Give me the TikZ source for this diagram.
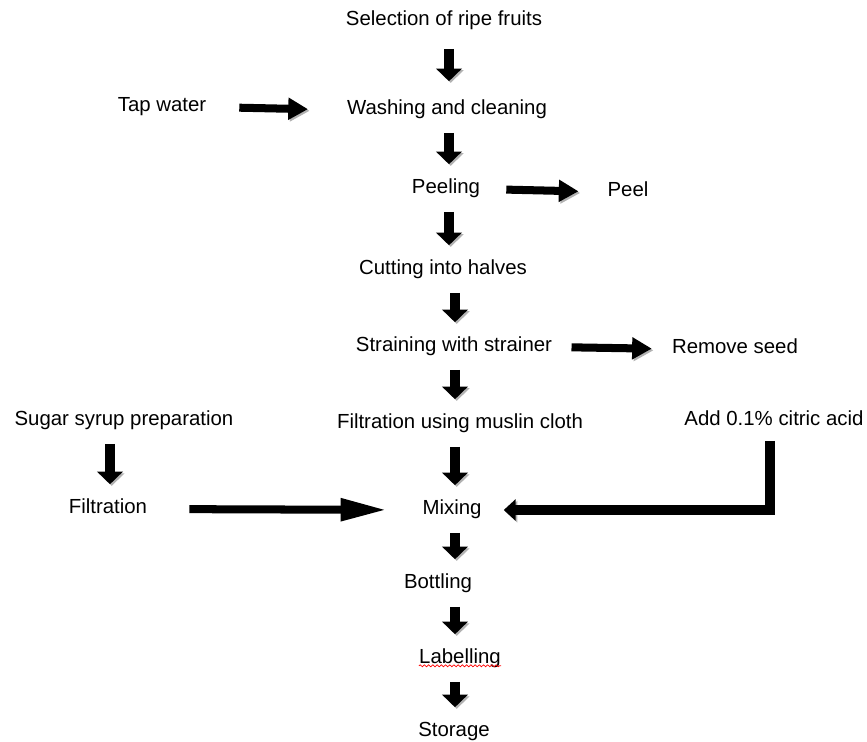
\documentclass[tikz,border=0pt]{standalone}
\usepackage{fontspec}
\setmainfont{Liberation Sans}
\usetikzlibrary{arrows.meta, calc, decorations.pathmorphing}

\tikzset{
    shadowed/.style={preaction={draw=black!30, transform canvas={shift={(1.2pt,-1.2pt)}}}},
    down arrow/.style={shadowed, line width=7pt, -{Triangle[width=18pt,length=9pt]}, shorten <=0.4cm, shorten >=0.45cm},
    side arrow/.style={shadowed, line width=5.7pt, -{Triangle[width=15pt,length=14pt]}},
    long arrow/.style={shadowed, line width=5.7pt, -{Triangle[width=15pt,length=33pt]}},
    elbow arrow/.style={shadowed, line width=7.5pt, -{Triangle[width=15pt,length=8.5pt]}}
}

\begin{document}
\begin{tikzpicture}[x=0.025cm, y=-0.025cm,
    every node/.style={font=\fontsize{14.5}{17}\selectfont, inner sep=0pt, text height=1.5ex, text depth=.25ex}]
    \useasboundingbox (0,0) rectangle (867,742);
    % columns for the vertical arrows
    \coordinate (top axis) at (449,0);
    \coordinate (main axis) at (455,0);
    \coordinate (left axis) at (110,0);
    % steps
    \node (select) at (444,21) {Selection of ripe fruits};
    \node (tap) at (162,107) {Tap water};
    \node (wash) at (447,110) {Washing and cleaning};
    \node (peeling) at (446,189) {Peeling};
    \node (peel) at (628,192) {Peel};
    \node (cut) at (443,270) {Cutting into halves};
    \node (strain) at (454,347) {Straining with strainer};
    \node (seed) at (735,349) {Remove seed};
    \node (sugar) at (124,421) {Sugar syrup preparation};
    \node (muslin) at (460,424) {Filtration using muslin cloth};
    \node (acid) at (774,421) {Add 0.1\% citric acid};
    \node (filt) at (108,509) {Filtration};
    \node (mix) at (452,510) {Mixing};
    \node (bottle) at (438,584) {Bottling};
    \node (label) at (460,659) {Labelling};
    \node (store) at (454,732) {Storage};
    \draw[red, line width=0.5pt, decorate, decoration={snake, amplitude=0.7pt, segment length=3pt}] (label.south west) -- (label.south east);
    % main line
    \draw[down arrow, shorten <=0.53cm, shorten >=0.55cm] (select.south -| top axis) -- (wash.north -| top axis);
    \draw[down arrow] (wash.south -| top axis) -- (peeling.north -| top axis);
    \draw[down arrow] (peeling.south -| top axis) -- (cut.north -| top axis);
    \draw[down arrow] (cut.south -| main axis) -- (strain.north -| main axis);
    \draw[down arrow] (strain.south -| main axis) -- (muslin.north -| main axis);
    \draw[down arrow] (muslin.south -| main axis) -- (mix.north -| main axis);
    \draw[down arrow] (mix.south -| main axis) -- (bottle.north -| main axis);
    \draw[down arrow] (bottle.south -| main axis) -- (label.north -| main axis);
    \draw[down arrow] (label.south -| main axis) -- (store.north -| main axis);
    % side inputs and outputs
    \draw[side arrow, shorten <=0.82cm, shorten >=0.97cm] (tap.east) -- (wash.west);
    \draw[side arrow, shorten <=0.65cm, shorten >=0.72cm] (peeling.east) -- (peel.west);
    \draw[side arrow, shorten <=0.48cm, shorten >=0.5cm] (strain.east) -- (seed.west);
    \draw[down arrow] (sugar.south -| left axis) -- (filt.north -| left axis);
    \draw[long arrow, shorten <=1.05cm, shorten >=0.88cm] (filt.east) -- (mix.west);
    \draw[elbow arrow, shorten >=0.55cm] ($(acid.south)+(-4,13)$) |- (mix.east);
\end{tikzpicture}
\end{document}
